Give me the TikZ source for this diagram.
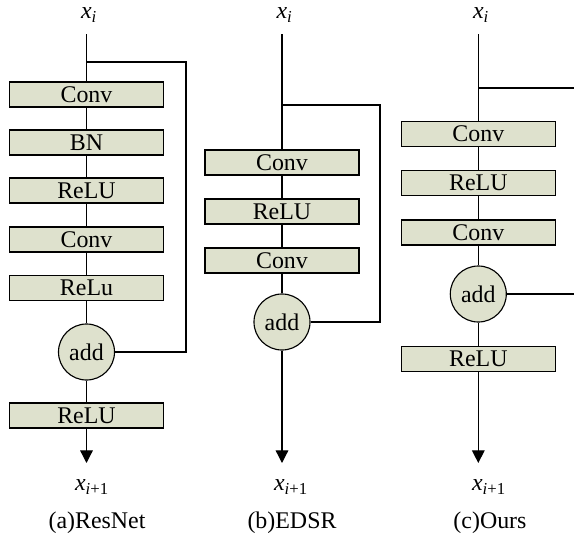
\documentclass[tikz,border=0pt]{standalone}
\usepackage{fontspec}
\setmainfont{Liberation Serif}
\usepackage{tikz}
\usepackage{xcolor}
\usetikzlibrary{arrows.meta,calc}

\definecolor{layerfill}{RGB}{222,225,205}

\begin{document}
\begin{tikzpicture}[x=0.025cm, y=-0.025cm, line width=0.9pt,
    every node/.style={font=\fontsize{17}{20}\selectfont},
    layer/.style={draw, line width=0.8pt, fill=layerfill, minimum width=3.85cm, minimum height=0.625cm, inner sep=0pt},
    addop/.style={draw, line width=0.8pt, circle, fill=layerfill, minimum size=1.4cm, inner sep=0pt},
    arr/.style={-{Triangle[length=9pt, width=9pt]}}]
    \useasboundingbox (0,0) rectangle (574,541);

    % (a) ResNet
    \node (ina) at (89,15) {\textit{x}\textsubscript{\textit{i}}};
    \node[layer] (conva1) at (86.5,94.5) {Conv};
    \node[layer] (bna) at (86.5,142.5) {BN};
    \node[layer] (relua1) at (86.5,190.5) {ReLU};
    \node[layer] (conva2) at (86.5,239.5) {Conv};
    \node[layer] (relua2) at (86.5,288) {ReLu};
    \node[addop] (adda) at (86.5,352) {add};
    \node[layer] (relua3) at (86.5,415.5) {ReLU};
    \node (outa) at (92,487) {\textit{x}\textsubscript{\textit{i}+1}};
    \node (capa) at (97,523) {(a)ResNet};
    \coordinate (ta) at (86.5,34);
    \coordinate (sa) at (86.5,62);
    \coordinate (ra) at (186,62);

    \draw (ta) -- (conva1);
    \draw (conva1) -- (bna);
    \draw (bna) -- (relua1);
    \draw (relua1) -- (conva2);
    \draw (conva2) -- (relua2);
    \draw (relua2) -- (adda);
    \draw (adda) -- (relua3);
    \draw[arr] (relua3) -- (relua3 |- 0,463);
    \draw (sa) -- (ra) |- (adda.east);

    % (b) EDSR
    \node (inb) at (284.5,15) {\textit{x}\textsubscript{\textit{i}}};
    \node[layer] (convb1) at (282,162.5) {Conv};
    \node[layer] (relub) at (282,211.5) {ReLU};
    \node[layer] (convb2) at (282,260.5) {Conv};
    \node[addop] (addb) at (282,322) {add};
    \node (outb) at (291,487) {\textit{x}\textsubscript{\textit{i}+1}};
    \node (capb) at (292,523) {(b)EDSR};
    \coordinate (tb) at (282,34);
    \coordinate (sb) at (282,105);
    \coordinate (rb) at (380,105);

    \draw (tb) -- (convb1);
    \draw (convb1) -- (relub);
    \draw (relub) -- (convb2);
    \draw (convb2) -- (addb);
    \draw[arr] (addb) -- (addb |- 0,463);
    \draw (sb) -- (rb) |- (addb.east);

    % (c) Ours
    \node (inc) at (481,15) {\textit{x}\textsubscript{\textit{i}}};
    \node[layer] (convc1) at (478.3,134) {Conv};
    \node[layer] (reluc1) at (478.3,183) {ReLU};
    \node[layer] (convc2) at (478.3,232.5) {Conv};
    \node[addop] (addc) at (478.3,294) {add};
    \node[layer] (reluc2) at (478.3,359) {ReLU};
    \node (outc) at (489,487) {\textit{x}\textsubscript{\textit{i}+1}};
    \node (capc) at (490,523) {(c)Ours};
    \coordinate (tc) at (478.3,34);
    \coordinate (sc) at (478.3,88);
    \coordinate (rc) at (574,88);
    \coordinate (ec) at (574,294);

    \draw (tc) -- (convc1);
    \draw (convc1) -- (reluc1);
    \draw (reluc1) -- (convc2);
    \draw (convc2) -- (addc);
    \draw (addc) -- (reluc2);
    \draw[arr] (reluc2) -- (reluc2 |- 0,463);
    \draw (sc) -- (rc);
    \draw (addc) -- (ec);
\end{tikzpicture}
\end{document}
